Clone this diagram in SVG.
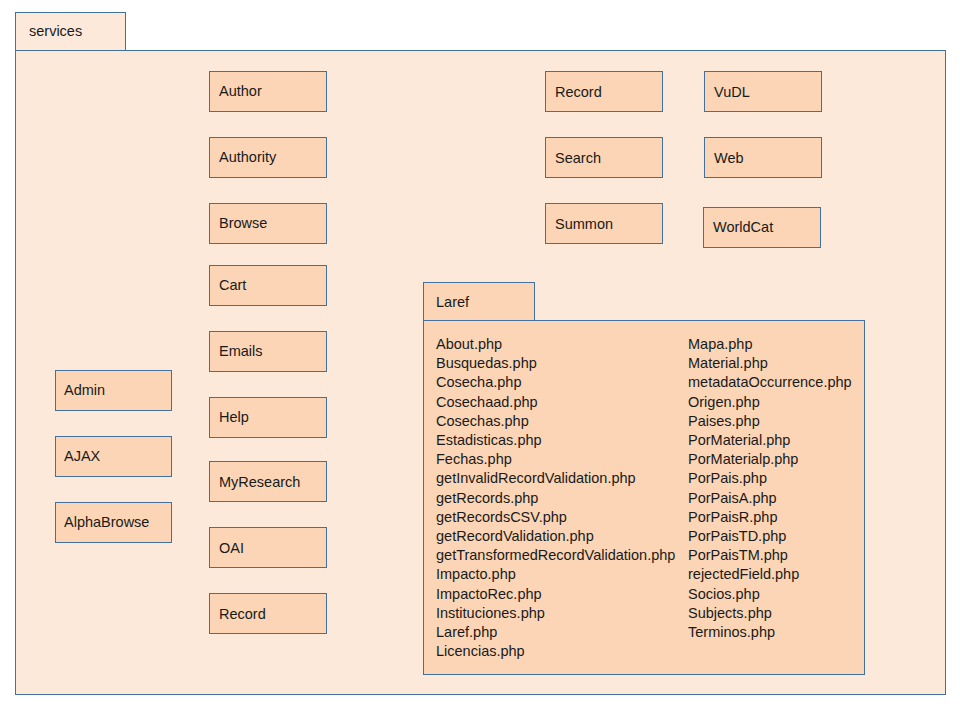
<svg xmlns="http://www.w3.org/2000/svg" width="960" height="720" viewBox="0 0 960 720">
  <style>
    .pkg { fill: #FDE9D9; stroke: #41719C; stroke-width: 1; }
    .box { fill: #FBD5B5; stroke: #41719C; stroke-width: 1; }
    text { font-family: "Liberation Sans", Arial, sans-serif; font-size: 14.5px; fill: #1a1a1a; }
  </style>
  <rect width="960" height="720" fill="#ffffff"/>

  <!-- services package -->
  <g id="services">
    <rect class="pkg" x="15.5" y="12.5" width="110" height="38"/>
    <rect class="pkg" x="15.5" y="50.5" width="930" height="644"/>
    <text x="29" y="36">services</text>
  </g>

  <!-- left column -->
  <g id="admin"><rect class="box" x="55.5" y="370.5" width="116" height="40"/><text x="64" y="395">Admin</text></g>
  <g id="ajax"><rect class="box" x="55.5" y="436.5" width="116" height="40"/><text x="64" y="461">AJAX</text></g>
  <g id="alphabrowse"><rect class="box" x="55.5" y="502.5" width="116" height="40"/><text x="64" y="527">AlphaBrowse</text></g>

  <!-- second column -->
  <g id="author"><rect class="box" x="209.5" y="71.5" width="117" height="40"/><text x="219" y="96">Author</text></g>
  <g id="authority"><rect class="box" x="209.5" y="137.5" width="117" height="40"/><text x="219" y="162">Authority</text></g>
  <g id="browse"><rect class="box" x="209.5" y="203.5" width="117" height="40"/><text x="219" y="228">Browse</text></g>
  <g id="cart"><rect class="box" x="209.5" y="265.5" width="117" height="40"/><text x="219" y="290">Cart</text></g>
  <g id="emails"><rect class="box" x="209.5" y="331.5" width="117" height="40"/><text x="219" y="356">Emails</text></g>
  <g id="help"><rect class="box" x="209.5" y="397.5" width="117" height="40"/><text x="219" y="422">Help</text></g>
  <g id="myresearch"><rect class="box" x="209.5" y="461.5" width="117" height="40"/><text x="219" y="487">MyResearch</text></g>
  <g id="oai"><rect class="box" x="209.5" y="527.5" width="117" height="40"/><text x="219" y="553">OAI</text></g>
  <g id="record-left"><rect class="box" x="209.5" y="593.5" width="117" height="40"/><text x="219" y="619">Record</text></g>

  <!-- right columns -->
  <g id="record"><rect class="box" x="545.5" y="71.5" width="117" height="40"/><text x="555" y="97">Record</text></g>
  <g id="search"><rect class="box" x="545.5" y="137.5" width="117" height="40"/><text x="555" y="163">Search</text></g>
  <g id="summon"><rect class="box" x="545.5" y="203.5" width="117" height="40"/><text x="555" y="229">Summon</text></g>
  <g id="vudl"><rect class="box" x="704.5" y="71.5" width="117" height="40"/><text x="714" y="97">VuDL</text></g>
  <g id="web"><rect class="box" x="704.5" y="137.5" width="117" height="40"/><text x="714" y="163">Web</text></g>
  <g id="worldcat"><rect class="box" x="703.5" y="207.5" width="117" height="40"/><text x="713" y="232">WorldCat</text></g>

  <!-- Laref package -->
  <g id="laref">
    <rect class="box" x="423.5" y="282.5" width="111" height="38"/>
    <rect class="box" x="423.5" y="320.5" width="441" height="354"/>
    <text x="436" y="307">Laref</text>
    <g>
      <text x="436" y="349">About.php</text>
      <text x="436" y="368">Busquedas.php</text>
      <text x="436" y="387">Cosecha.php</text>
      <text x="436" y="407">Cosechaad.php</text>
      <text x="436" y="426">Cosechas.php</text>
      <text x="436" y="445">Estadisticas.php</text>
      <text x="436" y="464">Fechas.php</text>
      <text x="436" y="483">getInvalidRecordValidation.php</text>
      <text x="436" y="503">getRecords.php</text>
      <text x="436" y="522">getRecordsCSV.php</text>
      <text x="436" y="541">getRecordValidation.php</text>
      <text x="436" y="560">getTransformedRecordValidation.php</text>
      <text x="436" y="579">Impacto.php</text>
      <text x="436" y="599">ImpactoRec.php</text>
      <text x="436" y="618">Instituciones.php</text>
      <text x="436" y="637">Laref.php</text>
      <text x="436" y="656">Licencias.php</text>
    </g>
    <g>
      <text x="688" y="349">Mapa.php</text>
      <text x="688" y="368">Material.php</text>
      <text x="688" y="387">metadataOccurrence.php</text>
      <text x="688" y="407">Origen.php</text>
      <text x="688" y="426">Paises.php</text>
      <text x="688" y="445">PorMaterial.php</text>
      <text x="688" y="464">PorMaterialp.php</text>
      <text x="688" y="483">PorPais.php</text>
      <text x="688" y="503">PorPaisA.php</text>
      <text x="688" y="522">PorPaisR.php</text>
      <text x="688" y="541">PorPaisTD.php</text>
      <text x="688" y="560">PorPaisTM.php</text>
      <text x="688" y="579">rejectedField.php</text>
      <text x="688" y="599">Socios.php</text>
      <text x="688" y="618">Subjects.php</text>
      <text x="688" y="637">Terminos.php</text>
    </g>
  </g>

  <!-- no connectors in this diagram -->
  <g id="connectors"/>
</svg>
